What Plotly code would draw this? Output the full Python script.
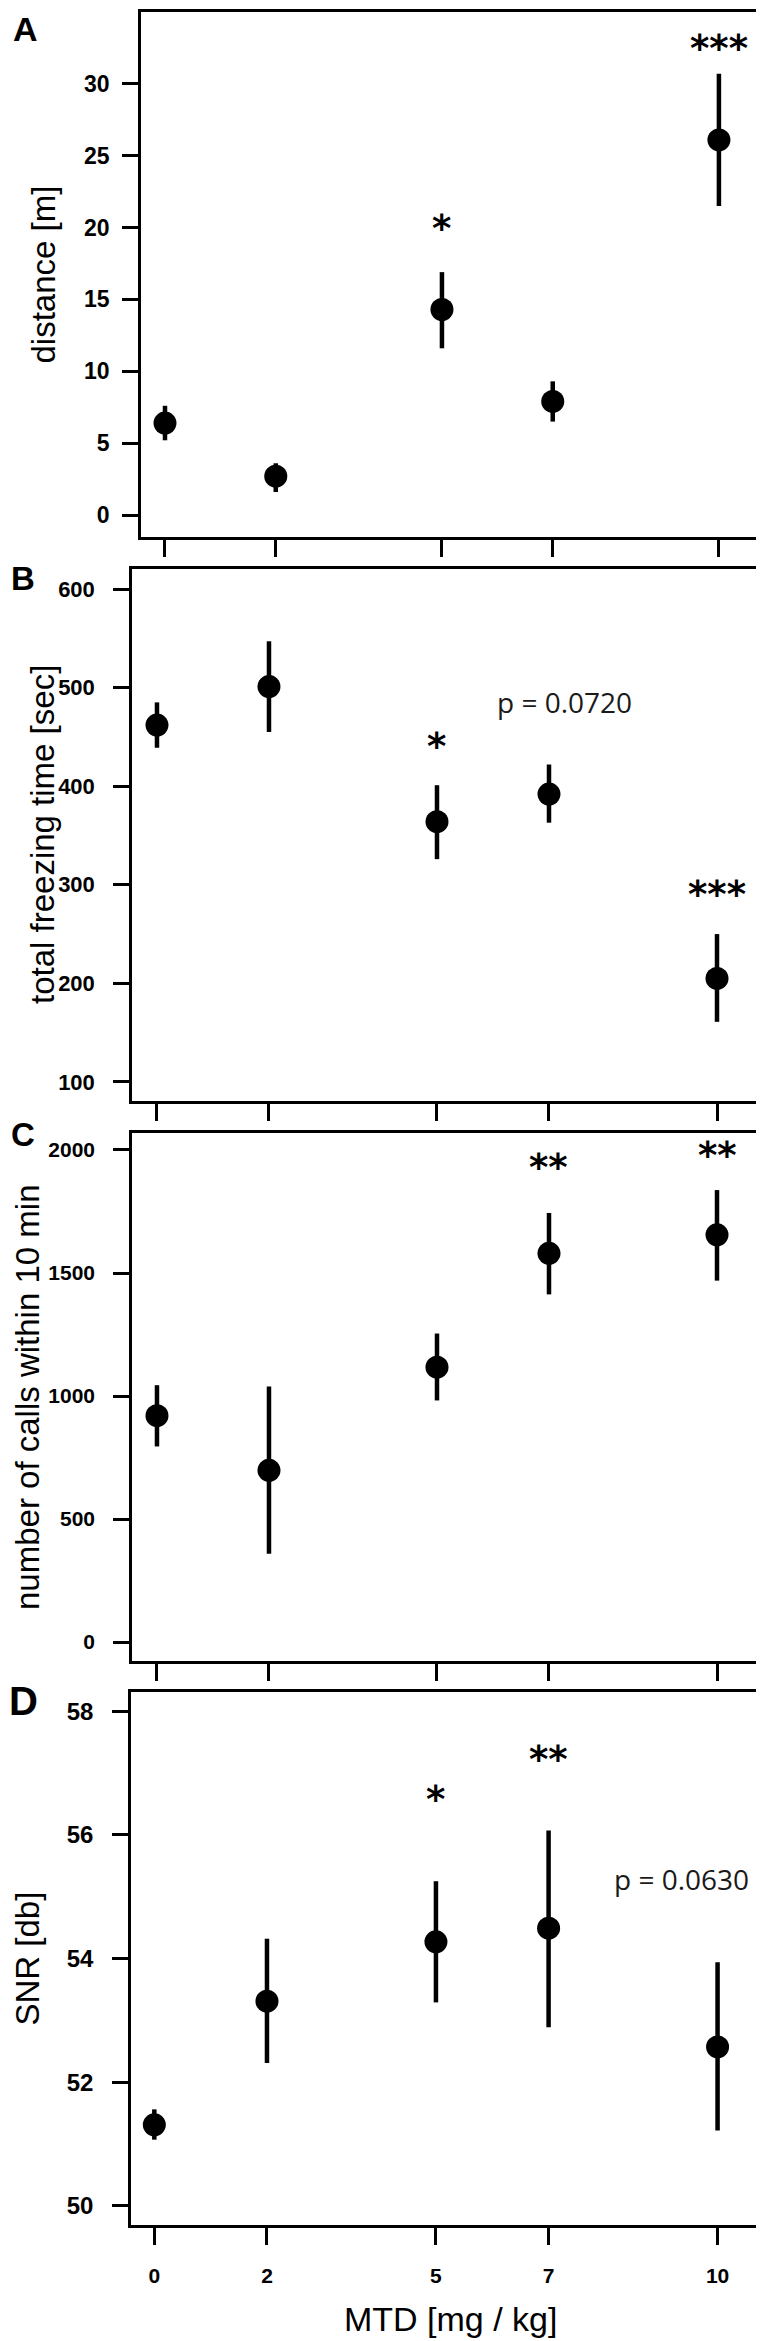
import plotly.graph_objects as go
from plotly.subplots import make_subplots

# MTD dose groups
dose = [0, 2, 5, 7, 10]

# A: distance travelled [m]
distance_mean = [6.4, 2.7, 14.3, 7.9, 26.1]
distance_upper = [7.6, 3.6, 16.9, 9.3, 30.7]
distance_lower = [5.2, 1.6, 11.6, 6.5, 21.5]
distance_star_x = [5, 10]
distance_star_y = [19.9, 32.4]
distance_star_text = ['*', '***']

# B: total freezing time [sec]
freeze_mean = [462, 501, 364, 392, 205]
freeze_upper = [485, 547, 401, 422, 250]
freeze_lower = [439, 455, 326, 363, 161]
freeze_star_x = [5, 10]
freeze_star_y = [439, 289]
freeze_star_text = ['*', '***']

# C: number of calls within 10 min
calls_mean = [920, 698, 1117, 1580, 1655]
calls_upper = [1044, 1039, 1254, 1744, 1837]
calls_lower = [795, 359, 982, 1413, 1469]
calls_star_x = [7, 10]
calls_star_y = [1923, 1973]
calls_star_text = ['**', '**']

# D: SNR [db]
snr_mean = [51.31, 53.31, 54.27, 54.49, 52.57]
snr_upper = [51.56, 54.32, 55.25, 56.07, 53.94]
snr_lower = [51.07, 52.31, 53.29, 52.89, 51.22]
snr_star_x = [5, 7]
snr_star_y = [56.56, 57.21]
snr_star_text = ['*', '**']

W, H = 764, 2341

panels = [
    dict(letter='A', title='distance [m]', mean=distance_mean, upper=distance_upper, lower=distance_lower,
         sx=distance_star_x, sy=distance_star_y, st=distance_star_text,
         yticks=[0, 5, 10, 15, 20, 25, 30], yrange=[-1.53, 35.0], xrange=[-0.433, 10.85],
         box=(133, 758, 4, 529), tickfont=23, standoff=8, title_x=35, letter_pos=(17, 21), letter_size=34),
    dict(letter='B', title='total freezing time [sec]', mean=freeze_mean, upper=freeze_upper, lower=freeze_lower,
         sx=freeze_star_x, sy=freeze_star_y, st=freeze_star_text,
         yticks=[100, 200, 300, 400, 500, 600], yrange=[80.7, 620.3], xrange=[-0.446, 10.875],
         box=(124, 758, 561, 1093), tickfont=22, standoff=14, title_x=34, letter_pos=(15, 570), letter_size=33),
    dict(letter='C', title='number of calls within 10 min', mean=calls_mean, upper=calls_upper, lower=calls_lower,
         sx=calls_star_x, sy=calls_star_y, st=calls_star_text,
         yticks=[0, 500, 1000, 1500, 2000], yrange=[-77, 2069], xrange=[-0.446, 10.875],
         box=(124, 758, 1125, 1653), tickfont=21, standoff=14, title_x=19, letter_pos=(15, 1126), letter_size=33),
    dict(letter='D', title='SNR [db]', mean=snr_mean, upper=snr_upper, lower=snr_lower,
         sx=snr_star_x, sy=snr_star_y, st=snr_star_text,
         yticks=[50, 52, 54, 56, 58], yrange=[49.69, 58.31], xrange=[-0.414, 10.86],
         box=(123, 758, 1684, 2217), tickfont=24, standoff=14, title_x=19, letter_pos=(15, 1693), letter_size=40),
]

fig = make_subplots(rows=4, cols=1)

annotations = []
for i, p in enumerate(panels):
    n = i + 1
    sfx = '' if n == 1 else str(n)
    fig.add_trace(go.Scatter(
        x=dose, y=p['mean'], mode='markers',
        marker=dict(size=23, color='black'),
        error_y=dict(type='data', symmetric=False,
                     array=[u - m for u, m in zip(p['upper'], p['mean'])],
                     arrayminus=[m - l for m, l in zip(p['mean'], p['lower'])],
                     thickness=4.5, width=0, color='black'),
        showlegend=False, hoverinfo='skip'), row=n, col=1)

    left, right, top, bottom = p['box']
    fig.layout['xaxis' + sfx].update(
        domain=[left / W, right / W], range=p['xrange'],
        tickvals=dose, showticklabels=(n == 4),
        ticks='outside', ticklen=17, tickwidth=2.5, tickcolor='black',
        showline=True, mirror=True, linewidth=2.5, linecolor='black',
        showgrid=False, zeroline=False, ticklabelstandoff=13,
        tickfont=dict(family='Liberation Sans, Arial, sans-serif', size=21, color='black', weight='bold'))
    fig.layout['yaxis' + sfx].update(
        domain=[1 - bottom / H, 1 - top / H], range=p['yrange'],
        tickvals=p['yticks'],
        ticks='outside', ticklen=16, tickwidth=2.5, tickcolor='black',
        showline=True, mirror=True, linewidth=2.5, linecolor='black',
        showgrid=False, zeroline=False, ticklabelstandoff=p['standoff'],
        tickfont=dict(family='Liberation Sans, Arial, sans-serif', size=p['tickfont'], color='black', weight='bold'))

    # significance stars
    for x, y, t in zip(p['sx'], p['sy'], p['st']):
        annotations.append(dict(
            x=x, y=y, xref='x' + sfx, yref='y' + sfx, text=t, showarrow=False,
            xanchor='center', yanchor='middle', yshift=1,
            font=dict(family='DejaVu Sans, sans-serif', size=37, color='black', weight='bold')))

    # y axis title
    annotations.append(dict(
        x=p['title_x'] / W, y=1 - (top + bottom) / 2 / H, xref='paper', yref='paper',
        text=p['title'], textangle=-90, showarrow=False, xanchor='center', yanchor='middle',
        font=dict(family='Liberation Sans, Arial, sans-serif', size=33, color='black')))

    # panel letter
    lx, ly = p['letter_pos']
    annotations.append(dict(
        x=lx / W, y=1 - ly / H, xref='paper', yref='paper', text=p['letter'], showarrow=False,
        xanchor='center', yanchor='middle',
        font=dict(family='Liberation Sans, Arial, sans-serif', size=p['letter_size'], color='black', weight='bold')))

# p-values
annotations.append(dict(x=7.27, y=479, xref='x2', yref='y2', text='p = 0.0720', showarrow=False,
                        xanchor='center', yanchor='middle', yshift=6,
                        font=dict(family='Open Sans, sans-serif', size=28, color='#1a1a1a')))
annotations.append(dict(x=9.36, y=55.19, xref='x4', yref='y4', text='p = 0.0630', showarrow=False,
                        xanchor='center', yanchor='middle', yshift=6,
                        font=dict(family='Open Sans, sans-serif', size=28, color='#1a1a1a')))

# x axis title
annotations.append(dict(x=442 / W, y=1 - 2311 / H, xref='paper', yref='paper', text='MTD [mg / kg]',
                        showarrow=False, xanchor='center', yanchor='middle',
                        font=dict(family='Liberation Sans, Arial, sans-serif', size=34, color='black')))

fig.update_layout(
    width=W, height=H, autosize=False,
    margin=dict(l=0, r=0, t=0, b=0),
    plot_bgcolor='white', paper_bgcolor='white',
    annotations=annotations,
)

fig.write_html("out.html")
